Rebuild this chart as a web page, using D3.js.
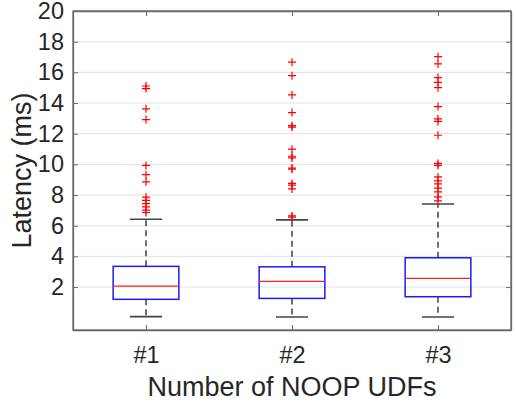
<!DOCTYPE html>
<html>
<head>
<meta charset="utf-8">
<script src="https://cdn.jsdelivr.net/npm/d3@7"></script>
<style>
  body { margin: 0; background: #fff; }
  text { font-family: "Liberation Sans", Arial, sans-serif; fill: #262626; }
</style>
</head>
<body>
<svg id="chart" width="516" height="407"></svg>
<script>
// values
const groups = ["#1", "#2", "#3"];
const whiskerLow = [0.07, 0.05, 0.05];
const q1 = [1.2, 1.26, 1.37];
const medians = [2.06, 2.37, 2.57];
const q3 = [3.35, 3.32, 3.91];
const whiskerHigh = [6.42, 6.38, 7.42];
const outliers1 = [15.11, 14.94, 13.62, 12.92, 9.93, 9.33, 8.86, 7.86, 7.65, 7.44, 7.23, 7.02, 6.86];
const outliers2 = [16.66, 15.78, 14.53, 13.38, 12.52, 12.43, 10.99, 10.53, 10.42, 9.76, 9.68, 8.76, 8.64, 8.4, 6.64, 6.56];
const outliers3 = [17.02, 16.55, 15.66, 15.35, 15.0, 13.77, 12.97, 12.8, 11.9, 10.06, 9.93, 9.18, 8.93, 8.73, 8.45, 8.2, 7.88, 7.62];
const yTicks = [2, 4, 6, 8, 10, 12, 14, 16, 18, 20];

const outliers = [outliers1, outliers2, outliers3];

const margin = { top: 11, right: 5, bottom: 77, left: 73 };
const width = 516, height = 407;
const svg = d3.select("#chart");

const x = d3.scalePoint()
            .domain(groups)
            .range([margin.left, width - margin.right])
            .padding(0.5);
const y = d3.scaleLinear()
            .domain([-0.8, 20])
            .range([height - margin.bottom, margin.top]);

const step = x.step();
const boxW = step * 0.45;
const capW = step * 0.22;

// grid
svg.append("g")
   .selectAll("line")
   .data(yTicks)
   .enter()
   .append("line")
   .attr("x1", margin.left)
   .attr("x2", width - margin.right)
   .attr("y1", d => y(d))
   .attr("y2", d => y(d))
   .attr("stroke", "#e2e2e2")
   .attr("stroke-width", 1);

// axes (ticks inward)
const axisColor = "#6a6a6a";
const yAxis = svg.append("g")
   .attr("transform", `translate(${margin.left},0)`)
   .call(d3.axisLeft(y).tickValues(yTicks).tickSizeInner(-5).tickSizeOuter(0).tickPadding(9));
const yAxisR = svg.append("g")
   .attr("transform", `translate(${width - margin.right},0)`)
   .call(d3.axisRight(y).tickValues(yTicks).tickSizeInner(-5).tickSizeOuter(0).tickFormat(""));
const xAxis = svg.append("g")
   .attr("transform", `translate(0,${height - margin.bottom})`)
   .call(d3.axisBottom(x).tickSizeInner(-5).tickSizeOuter(0).tickPadding(16));
const xAxisT = svg.append("g")
   .attr("transform", `translate(0,${margin.top})`)
   .call(d3.axisTop(x).tickSizeInner(-5).tickSizeOuter(0).tickFormat(""));

[yAxis, yAxisR, xAxis, xAxisT].forEach(a => {
  a.select(".domain").attr("stroke", axisColor).attr("stroke-width", 1.3);
  a.selectAll(".tick line").attr("stroke", axisColor).attr("stroke-width", 1);
  a.selectAll("text").style("font-size", "23.5px").attr("fill", "#262626");
});
// extend frame to corners
svg.append("rect")
   .attr("x", margin.left)
   .attr("y", margin.top)
   .attr("width", width - margin.right - margin.left)
   .attr("height", height - margin.bottom - margin.top)
   .attr("fill", "none")
   .attr("stroke", axisColor)
   .attr("stroke-width", 1.3);

// boxes
const box = svg.append("g")
   .selectAll("g")
   .data(groups)
   .enter()
   .append("g");

// whiskers
box.append("line")
   .attr("x1", d => x(d)).attr("x2", d => x(d))
   .attr("y1", (d, i) => y(q3[i])).attr("y2", (d, i) => y(whiskerHigh[i]))
   .attr("stroke", "#222").attr("stroke-width", 1.3).attr("stroke-dasharray", "6,4");
box.append("line")
   .attr("x1", d => x(d)).attr("x2", d => x(d))
   .attr("y1", (d, i) => y(q1[i])).attr("y2", (d, i) => y(whiskerLow[i]))
   .attr("stroke", "#222").attr("stroke-width", 1.3).attr("stroke-dasharray", "6,4");
box.append("line")
   .attr("x1", d => x(d) - capW / 2).attr("x2", d => x(d) + capW / 2)
   .attr("y1", (d, i) => y(whiskerHigh[i])).attr("y2", (d, i) => y(whiskerHigh[i]))
   .attr("stroke", "#444").attr("stroke-width", 1.6);
box.append("line")
   .attr("x1", d => x(d) - capW / 2).attr("x2", d => x(d) + capW / 2)
   .attr("y1", (d, i) => y(whiskerLow[i])).attr("y2", (d, i) => y(whiskerLow[i]))
   .attr("stroke", "#444").attr("stroke-width", 1.6);
box.append("rect")
   .attr("x", d => x(d) - boxW / 2)
   .attr("width", boxW)
   .attr("y", (d, i) => y(q3[i]))
   .attr("height", (d, i) => y(q1[i]) - y(q3[i]))
   .attr("fill", "none")
   .attr("stroke", "#1a1aff")
   .attr("stroke-width", 1.5);
box.append("line")
   .attr("x1", d => x(d) - boxW / 2).attr("x2", d => x(d) + boxW / 2)
   .attr("y1", (d, i) => y(medians[i])).attr("y2", (d, i) => y(medians[i]))
   .attr("stroke", "#ff2020").attr("stroke-width", 1.3);

// outliers as red plus signs
box.each(function (d, i) {
  const g = d3.select(this);
  const pts = outliers[i];
  const m = 4;
  g.selectAll("path.out")
   .data(pts)
   .enter()
   .append("path")
   .attr("class", "out")
   .attr("d", v => `M${x(d) - m},${y(v)}H${x(d) + m}M${x(d)},${y(v) - m}V${y(v) + m}`)
   .attr("stroke", "#ff0000")
   .attr("stroke-width", 1.2)
   .attr("fill", "none");
});

// axis labels
svg.append("text")
   .attr("x", (margin.left + width - margin.right) / 2)
   .attr("y", 396)
   .attr("text-anchor", "middle")
   .style("font-size", "27px")
   .text("Number of NOOP UDFs");
svg.append("text")
   .attr("transform", `translate(31,${(margin.top + height - margin.bottom) / 2}) rotate(-90)`)
   .attr("text-anchor", "middle")
   .style("font-size", "27px")
   .text("Latency (ms)");
</script>
</body>
</html>
